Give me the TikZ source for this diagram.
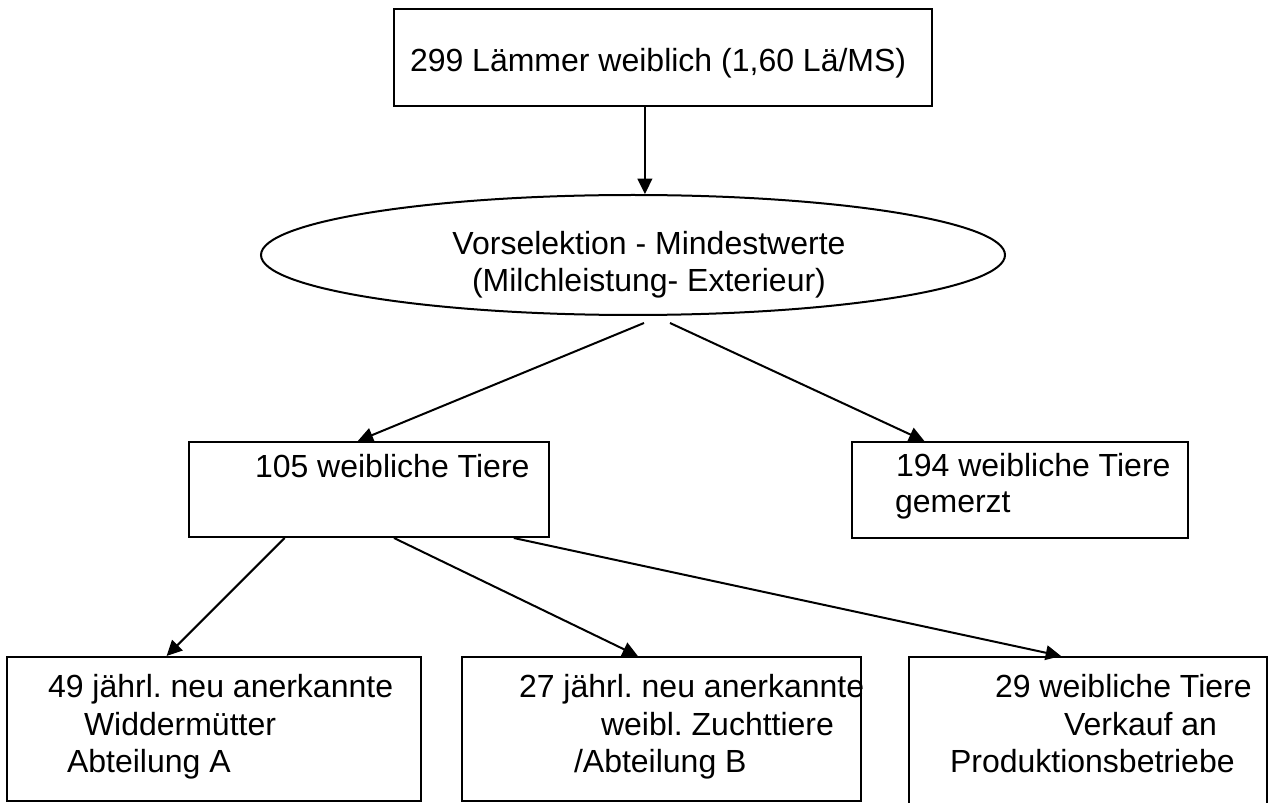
\documentclass[tikz,border=0pt]{standalone}
\usepackage{fontspec}
\setmainfont{Liberation Sans}
\usetikzlibrary{arrows.meta,shapes.geometric,calc}
\frenchspacing
\tikzset{
  cellbox/.style={draw,rectangle,inner sep=0pt},
  txt/.style={anchor=base west,inner sep=0pt},
}
\begin{document}
\begin{tikzpicture}[x=0.3pt,y=-0.3pt,>={Triangle[length=4.6pt,width=4.4pt]},line width=0.6pt,font=\fontsize{9.6}{11.1}\selectfont]
\useasboundingbox (0,0) rectangle (1268,803);
% boxes
\node[cellbox,minimum width=161.4pt,minimum height=29.1pt] (lamb) at (663,57.5) {};
\node[draw,ellipse,inner sep=0pt,minimum width=223.2pt,minimum height=36pt] (sel) at (633,255) {};
\node[cellbox,minimum width=108pt,minimum height=28.5pt] (keep) at (369,489.5) {};
\node[cellbox,minimum width=100.8pt,minimum height=28.8pt] (cull) at (1020,490) {};
\node[cellbox,minimum width=124.2pt,minimum height=43.2pt] (wm) at (214,729) {};
\node[cellbox,minimum width=119.7pt,minimum height=43.2pt] (zt) at (661.5,729) {};
\node[cellbox,minimum width=107.4pt,minimum height=48pt] (prod) at (1088,737) {};
% texts
\node[txt] (lambT) at (409,72) {299 Lämmer weiblich (1,60 Lä/MS)};
\node[align=center,inner sep=0pt] (selT) at (649,265) {Vorselektion - Mindestwerte\\(Milchleistung- Exterieur)};
\node[txt] (keepT) at (254,477) {105 weibliche Tiere};
\node[txt] (cullA) at (895,476) {194 weibliche Tiere};
\node[txt] (cullB) at (894,512) {gemerzt};
\node[txt] (wmA) at (47,697) {49 jährl. neu anerkannte};
\node[txt] (wmB) at (83,735) {Widdermütter};
\node[txt] (wmC) at (66,772) {Abteilung A};
\node[txt] (ztA) at (518,697) {27 jährl. neu anerkannte};
\node[txt] (ztB) at (600,735) {weibl. Zuchttiere};
\node[txt] (ztC) at (573,772) {/Abteilung B};
\node[txt] (prodA) at (994,697) {29 weibliche Tiere};
\node[txt] (prodB) at (1063,735) {Verkauf an};
\node[txt] (prodC) at (949,772) {Produktionsbetriebe};
% arrows
\coordinate (lambOut) at ($(lamb.south west)!0.4665!(lamb.south east)$);
\draw[->] (lambOut) -- (lambOut |- sel.north);
\draw[->] ($(sel.south)+(11,7)$) -- ($(keep.north west)!0.469!(keep.north east)$);
\draw[->] ($(sel.south)+(37,7)$) -- ($(cull.north west)!0.217!(cull.north east)$);
\draw[->] ($(keep.south west)!0.267!(keep.south east)$) -- ($(wm.north west)!0.386!(wm.north east)$);
\draw[->] ($(keep.south west)!0.569!(keep.south east)$) -- ($(zt.north west)!0.441!(zt.north east)$);
\draw[->] ($(keep.south west)!0.9!(keep.south east)$) -- ($(prod.north west)!0.425!(prod.north east)$);
\end{tikzpicture}
\end{document}
